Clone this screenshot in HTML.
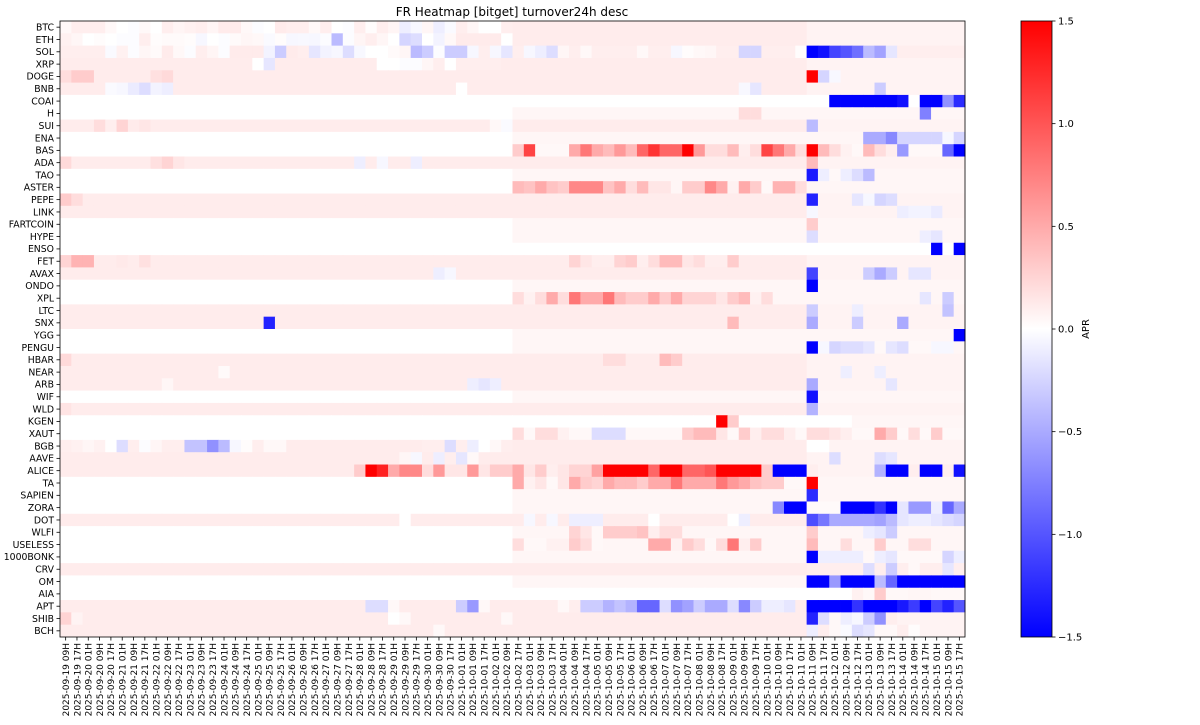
<!DOCTYPE html>
<html><head><meta charset="utf-8"><style>
body{margin:0;background:#fff;}
svg text{font-family:"DejaVu Sans","Liberation Sans",sans-serif;fill:#000;}
</style></head><body>
<svg id="s" width="1200" height="720" xmlns="http://www.w3.org/2000/svg"></svg>
<script>
const S=document.getElementById('s');
const NS='http://www.w3.org/2000/svg';
function el(t,a,txt){const e=document.createElementNS(NS,t);for(const k in a)e.setAttribute(k,a[k]);if(txt!==undefined)e.textContent=txt;S.appendChild(e);return e;}
function col(v){v=Math.max(-1.5,Math.min(1.5,v));const t=(v+1.5)/3;let r,g,b;
 if(t<0.5){r=g=Math.round(255*2*t);b=255;}else{r=255;g=b=Math.round(255*(2-2*t));}return `rgb(${r},${g},${b})`;}
const names="BTC ETH SOL XRP DOGE BNB COAI H SUI ENA BAS ADA TAO ASTER PEPE LINK FARTCOIN HYPE ENSO FET AVAX ONDO XPL LTC SNX YGG PENGU HBAR NEAR ARB WIF WLD KGEN XAUT BGB AAVE ALICE TA SAPIEN ZORA DOT WLFI USELESS 1000BONK CRV OM AIA APT SHIB BCH".split(' ');
const NR=50,NC=80,X0=60,Y0=21,W=905,H=616,cw=W/NC,rh=H/NR;
const P=0.11,L=0.05;
const whiteLeft=[6,7,9,10,12,13,16,17,18,21,22,25,26,30,32,33,37,38,39,41,42,43,45,46];
const D=[];
for(let r=0;r<NR;r++){D.push([]);for(let c=0;c<NC;c++){
 let v=whiteLeft.includes(r)?(c<40?0:L):P;
 if(c>=66 && !whiteLeft.includes(r)) v=0.07;
 D[r].push(v);}}
function s(r,c,v){if(Array.isArray(c)){for(let i=c[0];i<=c[1];i++)D[r][i]=v;}else D[r][c]=v;}
function seq(r,c0,arr){arr.forEach((v,i)=>{D[r][c0+i]=v;});}
for(let c=0;c<80;c++){D[6][c]=0;D[18][c]=0;}
for(let c=40;c<70;c++){D[46][c]=0;D[32][c]=0;}
seq(0,0,[.04,.1,.1,.1,.04,0,-.02,.04,0,.1,.06,.08,.1,.06,.12,.12,.04,-.02,0,.12,.1,.1,.04,.1,0,-.02,.1,.02,.1,.06,-.1,-.04,.05,-.1,-.03,.1,.05,0,0,.1]);
seq(1,0,[.08,.05,0,.02,0,-.02,-.02,.1,.02,.03,.03,.02,-.05,0,-.02,.03,.05,.04,-.03,.02,-.05,-.04,-.05,-.02,-.4,-.02,.06,.1,.05,0,-.25,-.2,0,-.07,.04,.12,.12,.12,.12,0]);
seq(2,0,[.1,.1,.1,.1,-.03,.08,-.02,.05,.03,.12,.04,-.02,.1,.06,-.02,.12,.12,.12,-.07,-.3,.12,.1,-.15,-.07,-.05,-.2,-.04,0,0,.03,.05,-.4,-.3,-.02,-.3,-.3,-.05,.1,-.05,-.15]);
seq(2,40,[.1,-.05,-.1,-.2,.05,.1,.04,.1,.1,.1,.1,.04,.1,.1,-.05,.02,.04,.05,.1,.1,-.25,-.25,.1,.1,.1,.02]);
seq(2,66,[-1.5,-1.4,-1.1,-1.0,-.85,-.4,-.55,-.15,.1,.1,.1,.1,.1,.1]);
seq(3,28,[0,0,-.02,-.02,.05,.1,0,.1,.1,.1,.1]);s(3,17,0);s(3,18,-.15);
seq(4,0,[.2,.3,.3]);s(4,8,.18);s(4,9,.22);s(4,66,1.5);s(4,67,-.25);s(4,68,-.04);
seq(5,4,[-.03,-.05,-.12,-.2,-.07,-.1]);s(5,35,0);s(5,60,-.04);s(5,61,-.15);s(5,72,-.3);
seq(6,68,[-1.5,-1.5,-1.5,-1.5,-1.5,-1.5,-1.4,0,-1.5,-1.5,-.65,-1.25]);
s(7,76,-.75);s(7,60,.2);s(7,61,.2);
seq(8,3,[.2,.1,.25,.12,.15]);s(8,66,-.4);s(8,38,.04);s(8,39,-.03);
seq(9,71,[-.5,-.5,-.7,-.25,-.25,-.25,-.25,-.05,-.25]);
seq(10,40,[.3,1.1,.04,.04,.04,.5,.8,.5,.4,.6,.4,.9,1.2,.9,.9,1.5,.6,.2,.2,.4,.1,.2,1.1,.8,.5,.2,1.5,.4,.2,.08,.04,.4,.2,.1,-.6,.04,.04,.04,-.9,-1.5]);
s(11,0,.22);s(11,8,.18);s(11,9,.25);s(11,10,.15);s(11,26,-.1);s(11,28,-.05);s(11,31,-.1);s(11,66,.4);
seq(12,66,[-1.35,-.1,.04,-.1,-.2,-.4]);
seq(13,40,[.4,.35,.5,.35,.3,.7,.7,.7,.35,.5,.2,.4,.15,.15,.05,.3,.3,.7,.5,.08,.5,.3,.04,.45,.45,.2]);
s(14,0,.3);s(14,1,.2);s(14,66,-1.3);seq(14,70,[-.15,-.05,-.25,-.2]);
s(15,66,-.05);s(15,74,-.1);s(15,75,-.07);s(15,76,-.07);s(15,77,-.12);
s(16,66,.3);s(17,66,-.2);s(17,76,-.1);s(17,77,-.15);
s(18,77,-1.5);s(18,79,-1.5);
seq(19,0,[.25,.45,.45]);s(19,7,.18);s(19,5,.13);
seq(19,45,[.25,.15,.1,.1,.25,.3,.1,.2,.4,.4,.15,.2,.1,.1,.3]);
s(20,66,-1.1);seq(20,71,[-.3,-.5,-.3]);s(20,75,-.15);s(20,76,-.15);s(20,33,-.1);s(20,34,-.05);
s(21,66,-1.5);
seq(22,40,[.2,.08,.2,.5,.2,.8,.5,.5,.8,.4,.3,.3,.5,.3,.5,.25,.25,.25,.15,.3,.4,.08,.2]);s(22,76,-.15);s(22,78,-.3);
s(23,66,-.3);s(23,70,-.1);s(23,78,-.35);
s(24,18,-1.3);s(24,59,.4);s(24,66,-.5);s(24,70,-.3);s(24,74,-.5);
s(25,79,-1.5);
s(26,66,-1.5);seq(26,67,[-.05,-.25,-.2,-.2,-.15,.04,-.15,-.2,.04,.04,-.05,-.05]);
s(27,0,.22);seq(27,48,[.2,.2]);s(27,53,.4);s(27,54,.3);
s(28,14,.03);s(28,69,-.1);s(28,72,-.1);
s(29,9,.05);s(29,36,-.1);s(29,37,-.15);s(29,38,-.1);s(29,66,-.5);s(29,73,-.15);
s(30,66,-1.4);
s(31,0,.16);s(31,66,-.45);
s(32,58,1.5);s(32,59,.3);
seq(33,40,[.2,.04,.2,.2,.08,.04,.04,-.2,-.2,-.2,.04,.04,.04,.04,.04,.3,.4,.4,.15,.04,.3,.1,.2,.2,.1,.04,.2,.2,.15,.1,.04,.04,.5,.3,.04,.2,.04,.3,.04,.04]);
seq(34,0,[.1,.08,.05,.08,0,-.2,.1,-.02,.05,.1,.1,-.35,-.35,-.65,-.4,-.05,.02,.1,.04,.04]);
seq(34,32,[.1,.1,-.2,.1,-.1,0,.04,.1]);s(34,66,0);s(34,67,0);
s(35,30,.05);s(35,31,-.05);s(35,33,-.1);s(35,34,.1);s(35,35,-.15);s(35,36,.04);s(35,68,-.2);s(35,72,-.2);s(35,73,-.15);
seq(36,26,[.3,1.5,1.3,.5,.7,.7,.2,.6,.15,.15,.6,.15,.3,.3]);
seq(36,40,[.5,.15,.3,.1,.15,.25,.25,.55,1.5,1.5,1.5,1.5,.9,1.5,1.5,.9,.9,1.0,1.5,1.5,1.5,1.5,.3,-1.5,-1.5,-1.5,.1]);
seq(36,72,[-.45,-1.5,-1.5,.1,-1.5,-1.5,.1,-1.5]);s(36,79,-1.4);
seq(37,40,[.5,.08,.15,.04,.15,.5,.3,.25,.5,.4,.4,.3,.5,.5,.8,.5,.5,.5,.8,.6,.5,.35,.3,.3,.04,.04,1.5]);
s(38,66,-1.25);
seq(39,63,[-.7,-1.5,-1.5,.03,.03,.03,-1.5,-1.5,-1.5,-1.2,-1.5,-.15,-.6,-.6,-.1,-.9,-.5]);
s(40,30,0);s(40,59,0);s(40,60,-.1);s(40,41,-.05);s(40,43,-.05);s(40,45,-.1);s(40,46,-.1);s(40,47,-.1);s(40,52,0);
seq(40,66,[-1.05,-.8,-.5,-.5,-.5,-.5,-.55,-.4,-.15,-.1,-.1,-.15,-.2,-.25]);
seq(41,45,[.25,.15,.04,.3,.3,.3,.35,.1,.2,.2]);s(41,66,.3);s(41,71,-.1);s(41,72,-.15);s(41,73,-.3);
seq(42,40,[.2,.04,.04,.08,.08,.3,.2,.04]);seq(42,52,[.5,.5,.08,.3,.2,.04,.2,.8,.1,.3]);s(42,66,.4);s(42,69,.2);s(42,72,.3);s(42,75,.2);s(42,76,.2);
s(43,66,-1.5);seq(43,67,[-.1,-.1,-.1,-.1,.04,-.1,-.15,.04,.04,.04,.04,-.25,-.1]);
seq(44,66,[.1,.1,.1,.1,.1,-.2,.1,-.3,.1,.04,.1,.1,-.15,.1]);
seq(45,66,[-1.5,-1.5,-.6,-1.5,-1.5,-1.5,-.4,-.9,-1.5,-1.5,-1.5,-1.5,-1.5,-1.5]);
seq(46,70,[.08,.04,.3,.04,.04,.05,.05,.04,.04,.04]);
seq(47,27,[-.2,-.2,.04]);s(47,35,-.3);s(47,36,-.6);s(47,37,.04);
seq(47,44,[.04,.1,-.3,-.3,-.45,-.35,-.45,-.9,-.9,-.2,-.65,-.55,-.3,-.5,-.5,-.2,-.7,-.3,-.1,-.1,-.15]);
seq(47,66,[-1.5,-1.5,-1.5,-1.5,-1.2,-1.5,-1.5,-1.5,-1.35,-1.15,-1.5,-1.1,-1.3,-1.0]);
s(48,0,.25);s(48,1,.07);s(48,29,0);s(48,30,.04);s(48,39,.04);s(48,66,-1.3);seq(48,67,[-.2,.04,-.1,-.05,-.3,-.65,.1]);
s(49,33,.04);seq(49,66,[-.1,.1,.04,-.03,-.2,-.15,.04,.04,.1,.02]);
let g='';
for(let r=0;r<NR;r++)for(let c=0;c<NC;c++){
 const x=X0+c*cw,y=Y0+r*rh;
 g+=`<rect x="${x.toFixed(2)}" y="${y.toFixed(2)}" width="${(cw+0.4).toFixed(2)}" height="${(rh+0.4).toFixed(2)}" fill="${col(D[r][c])}"/>`;}
S.insertAdjacentHTML('beforeend',g);
el('rect',{x:X0,y:Y0,width:W,height:H,fill:'none',stroke:'#000','stroke-width':0.8});
el('text',{x:512,y:16,'text-anchor':'middle','font-size':'12'},'FR Heatmap [bitget] turnover24h desc');
for(let r=0;r<NR;r++){const y=Y0+(r+0.5)*rh;
 el('line',{x1:X0-3.5,x2:X0,y1:y,y2:y,stroke:'#000','stroke-width':0.8});
 el('text',{x:X0-6,y:y+3.3,'text-anchor':'end','font-size':'9.3'},names[r]);}
const labs=[];labs.push('2025-09-19 09H','2025-09-19 17H');
for(let d=0;d<26;d++){const dt=new Date(Date.UTC(2025,8,20+d));const m=String(dt.getUTCMonth()+1).padStart(2,'0'),dd=String(dt.getUTCDate()).padStart(2,'0');
 for(const h of ['01H','09H','17H'])labs.push(`2025-${m}-${dd} ${h}`);}
for(let c=0;c<NC;c++){const x=X0+(c+0.5)*cw;
 el('line',{x1:x,x2:x,y1:Y0+H,y2:Y0+H+3.5,stroke:'#000','stroke-width':0.8});
 el('text',{x:0,y:0,'text-anchor':'end','font-size':'9',transform:`translate(${(x+3.3).toFixed(2)},${Y0+H+6}) rotate(-90)`},labs[c]);}
const d=document.createElementNS(NS,'defs');d.innerHTML='<linearGradient id="cb" x1="0" y1="0" x2="0" y2="1"><stop offset="0" stop-color="rgb(255,0,0)"/><stop offset="0.5" stop-color="rgb(255,255,255)"/><stop offset="1" stop-color="rgb(0,0,255)"/></linearGradient>';S.appendChild(d);
el('rect',{x:1021,y:21,width:31,height:616,fill:'url(#cb)',stroke:'#000','stroke-width':0.8});
const tk=[[1.5,'1.5'],[1.0,'1.0'],[0.5,'0.5'],[0,'0.0'],[-0.5,'\u22120.5'],[-1.0,'\u22121.0'],[-1.5,'\u22121.5']];
tk.forEach(([v,t])=>{const y=21+(1.5-v)/3*616;
 el('line',{x1:1052,x2:1055.5,y1:y,y2:y,stroke:'#000','stroke-width':0.8});
 el('text',{x:1058,y:y+3.5,'font-size':'10'},t);});
el('text',{x:0,y:0,'text-anchor':'middle','font-size':'10',transform:'translate(1089,329) rotate(-90)'},'APR');
</script>
</body></html>
